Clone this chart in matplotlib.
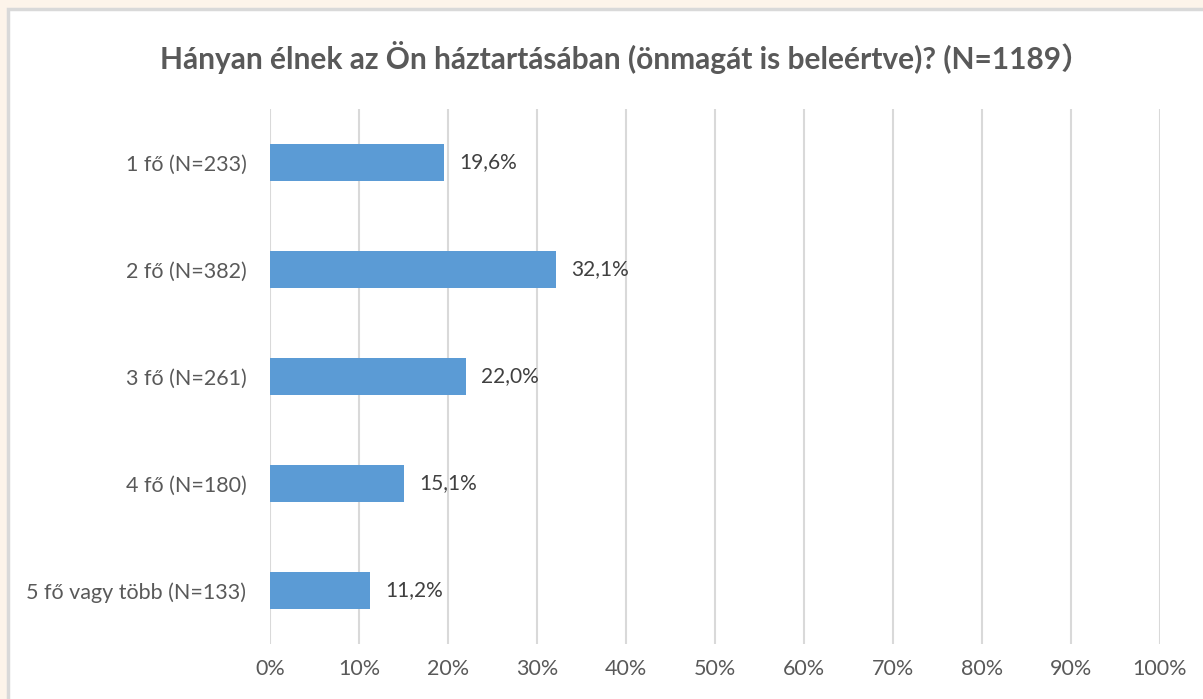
import numpy as np
import matplotlib.pyplot as plt
from matplotlib.patches import Rectangle

plt.rcParams['font.family'] = ['Lato', 'Noto Sans CJK SC', 'DejaVu Sans']

categories = ['1 fő (N=233)', '2 fő (N=382)', '3 fő (N=261)',
              '4 fő (N=180)', '5 fő vagy több (N=133)']
shares = [19.6, 32.1, 22.0, 15.1, 11.2]
xticks = [0, 10, 20, 30, 40, 50, 60, 70, 80, 90, 100]
title = 'Hányan élnek az Ön háztartásában (önmagát is beleértve)? (N=1189）'

W, H = 1203, 699
fig = plt.figure(figsize=(W/100, H/100), dpi=100)
fig.patch.set_facecolor('#FDF4EA')

# white chart box with grey border
fig.patches.append(Rectangle((7.5/W, -0.1), 1.2, 1 - 9.5/H + 0.1,
                             transform=fig.transFigure, facecolor='white',
                             edgecolor='#D9D9D9', lw=2.5, zorder=-10))

ax = fig.add_axes([270/W, 1 - 644/H, 890/W, 535/H])
ax.set_facecolor('none')

y = np.arange(len(categories))
ax.barh(y, shares, height=0.355, color='#5B9BD5', zorder=3)
for yi, v in zip(y, shares):
    ax.text(v + 1.7, yi, f'{v:.1f}%'.replace('.', ','), va='center', ha='left',
            fontsize=15, color='#404040')

ax.set_xlim(0, 100)
ax.set_ylim(len(categories) - 0.5, -0.5)
ax.set_xticks(xticks)
ax.set_xticklabels([f'{t}%' for t in xticks])
ax.set_yticks(y)
ax.set_yticklabels(categories)
ax.tick_params(length=0, labelsize=15.5, colors='#595959')
ax.tick_params(axis='x', pad=11)
ax.tick_params(axis='y', pad=17)
ax.grid(axis='x', color='#D9D9D9', lw=1.5, zorder=0)
for s in ax.spines.values():
    s.set_visible(False)

fig.text(0.5 * (176 + 1075) / W, 1 - 57/H, title, ha='center', va='center',
         fontsize=21.5, fontweight='bold', color='#595959')

fig.savefig('out.png', dpi=100, facecolor=fig.get_facecolor())
